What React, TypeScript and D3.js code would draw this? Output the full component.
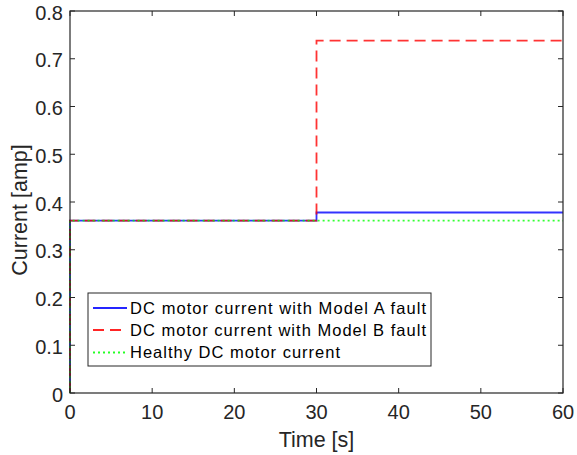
import React from "react";
import * as d3 from "d3";

const xTicks = [0, 10, 20, 30, 40, 50, 60];
const yTicks = [0, 0.1, 0.2, 0.3, 0.4, 0.5, 0.6, 0.7, 0.8];

const modelA: [number, number][] = [[0, 0], [0, 0.361], [30, 0.361], [30, 0.378], [60, 0.378]];
const modelB: [number, number][] = [[0, 0], [0, 0.361], [30, 0.361], [30, 0.738], [60, 0.738]];
const healthy: [number, number][] = [[0, 0], [0, 0.361], [60, 0.361]];

const seriesNames = [
  "DC motor current with Model A fault",
  "DC motor current with Model B fault",
  "Healthy DC motor current",
];

const W = 577, H = 455;
const L = 70, R = 563, T = 11, B = 393;

export default function App() {
  const x = d3.scaleLinear().domain([0, 60]).range([L, R]);
  const y = d3.scaleLinear().domain([0, 0.8]).range([B, T]);
  const line = d3.line<[number, number]>().x(d => x(d[0])).y(d => y(d[1]));
  const font = "Liberation Sans, Arial, Helvetica, sans-serif";
  const series = [
    { data: modelA, color: "#0000ff", dash: "none" },
    { data: modelB, color: "#ff0000", dash: "11,6" },
    { data: healthy, color: "#00ff00", dash: "2,3" },
  ];
  const lx = 88, ly = 293, lw = 343, lh = 73;
  const rowY = [308, 330, 352.5];
  const textW = [296, 296, 210];
  return (
    <svg width={W} height={H} style={{ position: "absolute", left: 0, top: 0, background: "#fff" }} fontFamily={font}>
      <rect x={0} y={0} width={W} height={H} fill="#fff" />
      <clipPath id="clip"><rect x={L - 2} y={T} width={R - L + 4} height={B - T} /></clipPath>
      <g clipPath="url(#clip)">
        {series.map((s, i) => (
          <path key={i} d={line(s.data) || ""} fill="none" stroke={s.color} strokeWidth={1.8}
            strokeDasharray={s.dash} opacity={0.8} />
        ))}
      </g>
      {xTicks.map(t => (
        <g key={"x" + t}>
          <line x1={x(t)} x2={x(t)} y1={B} y2={B - 5} stroke="#262626" />
          <line x1={x(t)} x2={x(t)} y1={T} y2={T + 5} stroke="#262626" />
          <text x={x(t)} y={B + 26} textAnchor="middle" fontSize={20} fill="#262626">{t}</text>
        </g>
      ))}
      {yTicks.map(t => (
        <g key={"y" + t}>
          <line x1={L} x2={L + 5} y1={y(t)} y2={y(t)} stroke="#262626" />
          <line x1={R} x2={R - 5} y1={y(t)} y2={y(t)} stroke="#262626" />
          <text x={L - 7} y={y(t) + 8.5} textAnchor="end" fontSize={20} fill="#262626">{String(+t.toFixed(1))}</text>
        </g>
      ))}
      <rect x={L} y={T} width={R - L} height={B - T} fill="none" stroke="#262626" strokeWidth={1.2} />
      <text x={(L + R) / 2} y={446.5} textAnchor="middle" fontSize={21.5} fill="#262626">Time [s]</text>
      <text transform={`translate(27,210) rotate(-90)`} textAnchor="middle" fontSize={21.5} fill="#262626">Current [amp]</text>
      <rect x={lx} y={ly} width={lw} height={lh} fill="#fff" stroke="#262626" strokeWidth={1} />
      {series.map((s, i) => (
        <g key={"l" + i}>
          <line x1={93} x2={127} y1={rowY[i]} y2={rowY[i]}
            stroke={s.color} strokeWidth={1.8} strokeDasharray={s.dash} opacity={0.85} />
          <text x={130} y={rowY[i] + 5.5} fontSize={16.5} fill="#000"
            textLength={textW[i]} lengthAdjust="spacing">{seriesNames[i]}</text>
        </g>
      ))}
    </svg>
  );
}
